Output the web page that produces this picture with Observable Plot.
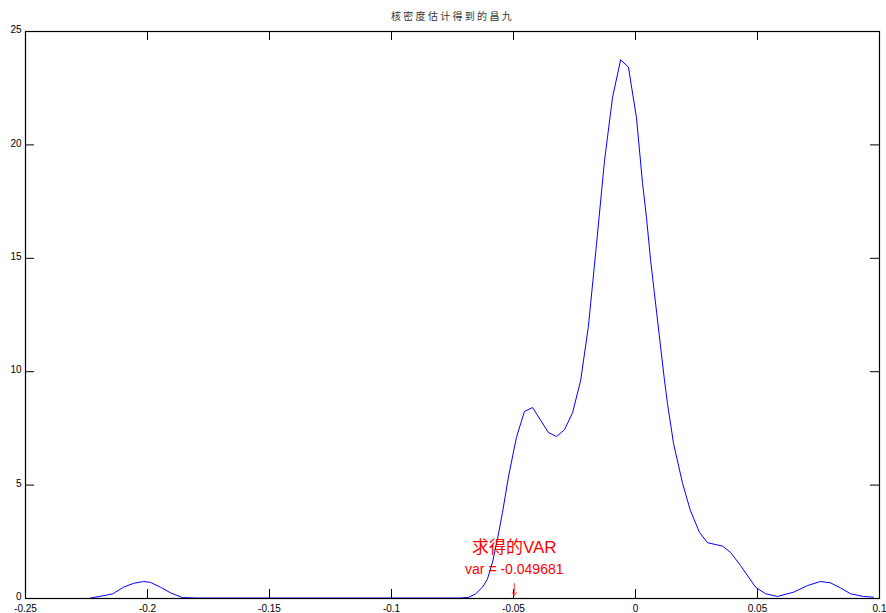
<!DOCTYPE html>
<html><head><meta charset="utf-8">
<script src="https://cdn.jsdelivr.net/npm/d3@7"></script>
<script src="https://cdn.jsdelivr.net/npm/@observablehq/plot@0.6"></script>
<style>body{margin:0;background:#fff} svg{display:block}</style>
</head><body><div id="chart"></div>
<script>
const titleText = "核密度估计得到的昌九";
const xs = [-0.2242,-0.2143,-0.2098,-0.2057,-0.2016,-0.1988,-0.1947,-0.1906,-0.1857,-0.1800,
  -0.0720,-0.0684,-0.0656,-0.0627,-0.0607,-0.0586,-0.0566,-0.0545,-0.0520,-0.0488,
  -0.0455,-0.0422,-0.0357,-0.0324,-0.0291,-0.0258,-0.0225,-0.0193,-0.0160,-0.0127,
  -0.0094,-0.0061,-0.0029,0.0004,0.0029,0.0045,0.0062,0.0119,0.0131,0.0156,
  0.0193,0.0225,0.0262,0.0295,0.0357,0.0389,0.0430,0.0492,0.0533,0.0582,
  0.0648,0.0705,0.0758,0.0799,0.0840,0.0881,0.0934,0.0975];
const ys = [0,0.2,0.5,0.67,0.75,0.71,0.5,0.25,0.04,0.02,
  0.02,0.05,0.2,0.5,0.85,1.6,2.6,3.8,5.4,7.1,
  8.25,8.42,7.32,7.14,7.44,8.19,9.6,12.0,15.6,19.3,
  22.1,23.75,23.43,21.2,18.3,16.8,14.9,9.6,8.6,6.83,
  5.07,3.88,2.92,2.46,2.31,2.04,1.46,0.5,0.21,0.09,
  0.28,0.57,0.75,0.69,0.47,0.21,0.09,0.06];
const xTicks = [-0.25,-0.2,-0.15,-0.1,-0.05,0,0.05,0.1];
const xTickLabels = ["-0.25","-0.2","-0.15","-0.1","-0.05","0","0.05","0.1"];
const yTicks = [0,5,10,15,20,25];
const yTickLabels = ["0","5","10","15","20","25"];
const varValue = -0.049681;
const annoLines = ["求得的VAR", "var = -0.049681"];

const data = xs.map((x, i) => ({x, y: ys[i]}));
const xLab = new Map(xTicks.map((t, i) => [t, xTickLabels[i]]));
const yLab = new Map(yTicks.map((t, i) => [t, yTickLabels[i]]));

const W = 886, H = 613, mt = 31, mb = 15, ml = 25, mr = 7;
const fw = W - ml - mr, fh = H - mt - mb, tl = 9;

const chart = Plot.plot({
  width: W, height: H,
  marginTop: mt, marginBottom: mb, marginLeft: ml, marginRight: mr,
  style: {fontFamily: "'Liberation Sans', Arial, sans-serif", fontSize: "10px", color: "#000", background: "#fff"},
  x: {domain: [-0.25, 0.1]},
  y: {domain: [0, 25]},
  marks: [
    Plot.tickX(xTicks, {x: d => d, insetTop: fh - tl, stroke: "#000"}),
    Plot.tickX(xTicks, {x: d => d, insetBottom: fh - tl, stroke: "#000"}),
    Plot.tickY(yTicks, {y: d => d, insetRight: fw - tl, stroke: "#000"}),
    Plot.tickY(yTicks, {y: d => d, insetLeft: fw - tl, stroke: "#000"}),
    Plot.axisX(xTicks, {tickSize: 0, tickPadding: 6, tickFormat: d => xLab.get(d), label: null}),
    Plot.axisY(yTicks, {tickSize: 0, tickPadding: 4, dy: -1.5, tickFormat: d => yLab.get(d), label: null}),
    Plot.line(data, {x: "x", y: "y", stroke: "#0000ff", strokeWidth: 1}),
    Plot.frame({stroke: "#000", strokeWidth: 1.2}),
    Plot.arrow([varValue], {x1: d => d, x2: d => d, y1: 0.66, y2: 0.13, stroke: "#ff3333", strokeWidth: 1, headLength: 5, headAngle: 70}),
    Plot.text([annoLines[0]], {x: varValue, y: 0, text: d => d, dy: -51, fill: "#ff0000", fontSize: 17, fontFamily: "'Liberation Sans', 'Noto Sans CJK SC', sans-serif", lineAnchor: "middle"}),
    Plot.text([annoLines[1]], {x: varValue, y: 0, text: d => d, dy: -29, fill: "#ff0000", fontSize: 14, fontFamily: "'Liberation Sans', Arial, sans-serif", lineAnchor: "middle"}),
    Plot.text([titleText], {frameAnchor: "top", text: d => d, dy: -15, fontSize: 10, fill: "#333", fontFamily: "'Noto Sans CJK SC', sans-serif", lineAnchor: "middle"})
  ]
});
const textGroups = chart.querySelectorAll('g[aria-label="text"]');
textGroups[textGroups.length - 1].style.letterSpacing = "2.3px";
document.getElementById("chart").appendChild(chart);
</script>
</body></html>
